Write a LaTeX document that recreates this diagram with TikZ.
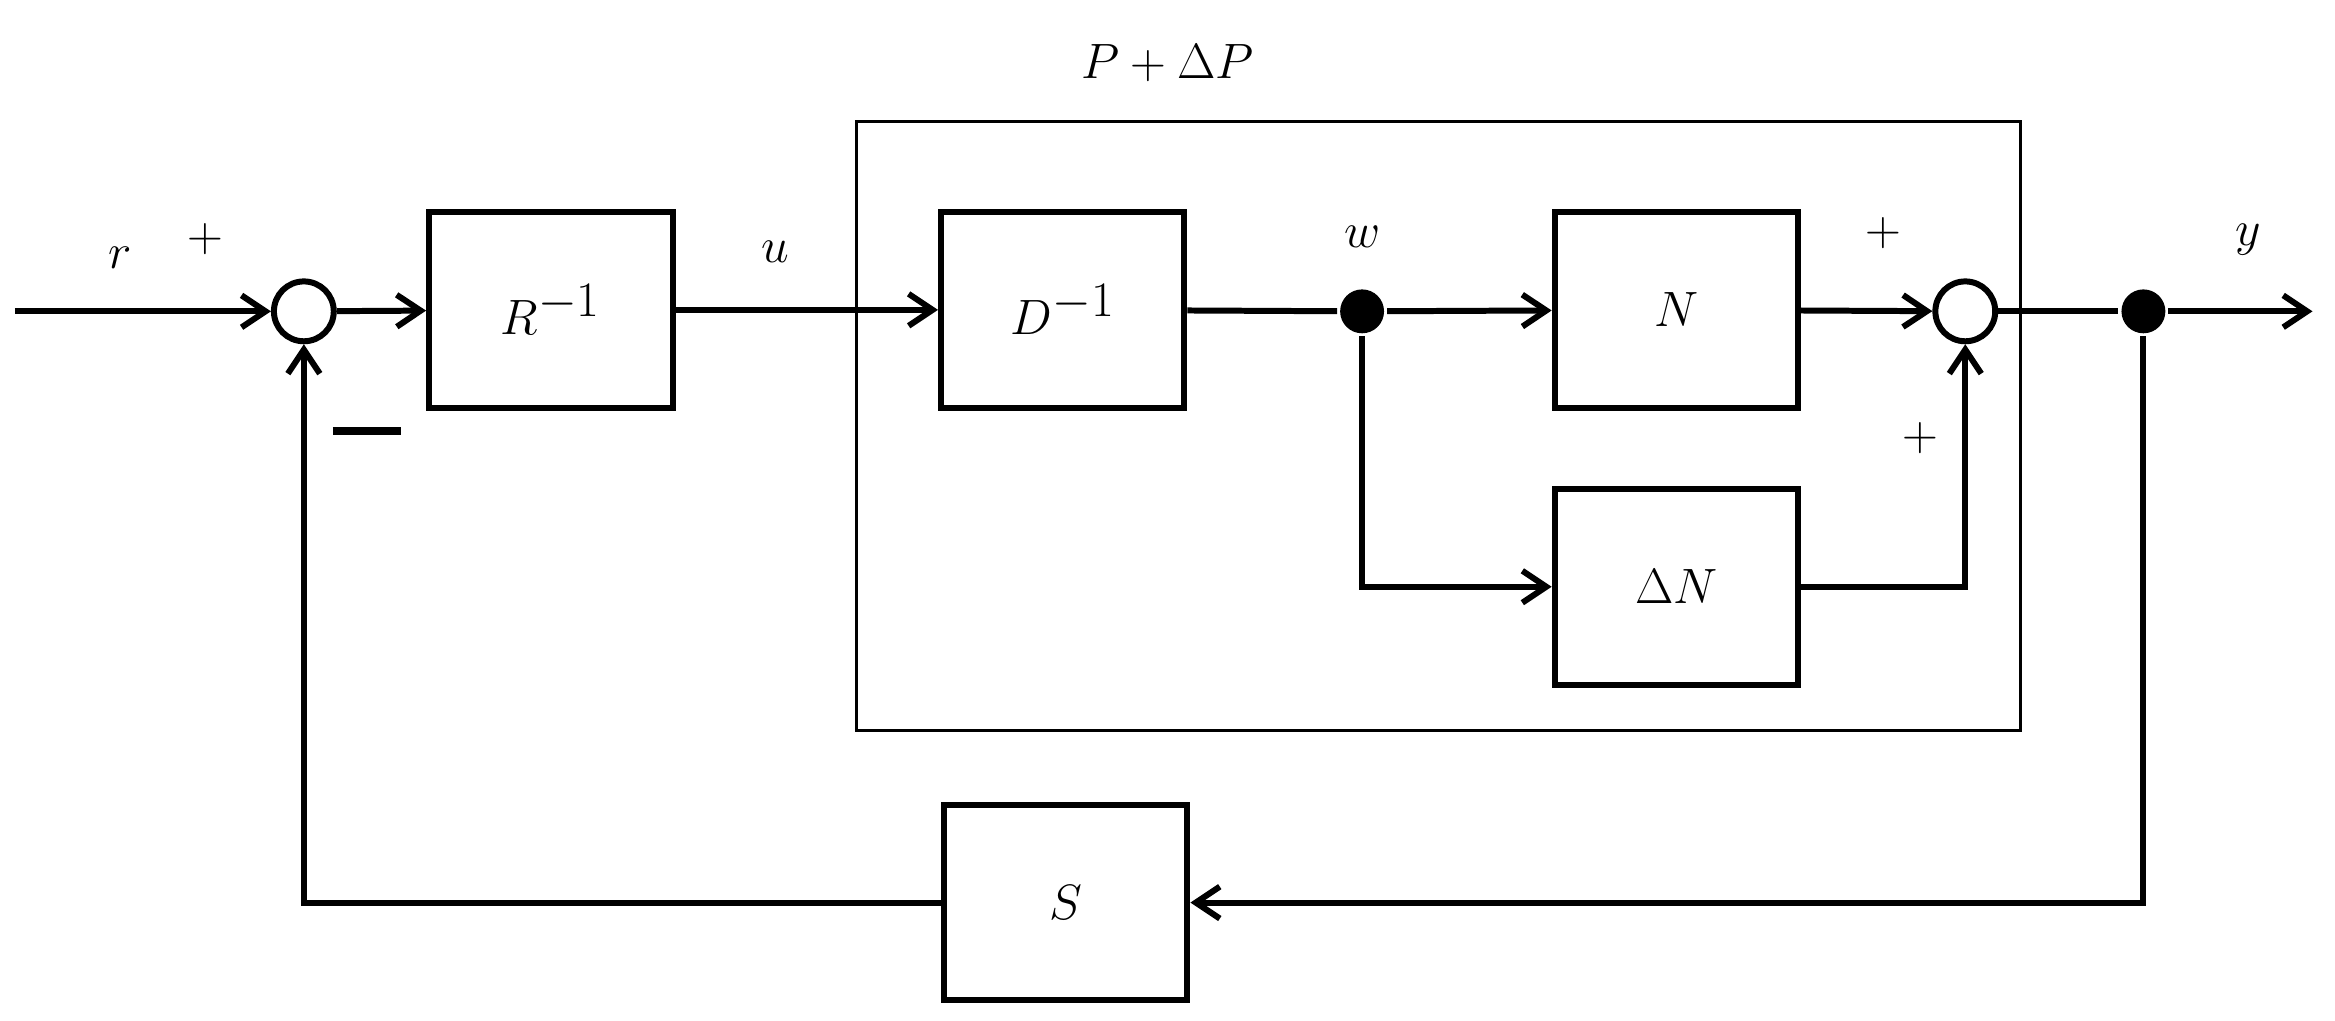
\documentclass[tikz,border=0pt]{standalone}
\usetikzlibrary{arrows.meta}
\begin{document}
\begin{tikzpicture}[x=0.75pt,y=-0.75pt,
  line width=3pt,
  blk/.style={draw,line width=3pt,minimum width=122pt,minimum height=98pt,font=\fontsize{48}{56}\selectfont},
  sum/.style={draw,circle,line width=3pt,minimum size=30pt,inner sep=0pt},
  dot/.style={circle,fill=black,minimum size=22pt,inner sep=0pt},
  lab/.style={font=\fontsize{50}{58}\selectfont},
  arr/.style={-{Straight Barb[length=12pt,width=16pt,line width=3pt]}}]
\useasboundingbox (0,0) rectangle (1560,681.5);
\draw[line width=1.5pt] (572,81) rectangle (1350,488);
\node[lab,font=\fontsize{58}{66}\selectfont] (pl) at (780,42) {$P+\Delta P$};
\coordinate (in) at (10,208);
\node[sum] (s1) at (203,208) {};
\node[blk] (R) at (368,207) {$R^{-1}$};
\node[blk] (D) at (710,207) {$D^{-1}$};
\node[dot] (w) at (910,208) {};
\node[blk] (N) at (1120,207) {$N$};
\node[blk] (dN) at (1120,392) {$\Delta N$};
\node[sum] (s2) at (1313,208) {};
\node[dot] (o) at (1432,208) {};
\coordinate (out) at (1545,208);
\node[blk] (S) at (712,603) {$S$};
\draw[arr] (in) -- (s1);
\draw[arr] (s1) -- (R);
\draw[arr] (R) -- (D);
\draw (D) -- (w);
\draw[arr] (w) -- (N);
\draw[arr] (w) |- (dN);
\draw[arr] (N) -- (s2);
\draw[arr] (dN) -| (s2);
\draw (s2) -- (o);
\draw[arr] (o) -- (out);
\draw[arr] (o) |- (S);
\draw[arr] (S) -| (s1);
\node[lab] (lr) at (80,172) {$r$};
\node[lab] (lp1) at (137,160) {$+$};
\node[lab] (lm) at (245,288) {\rule{34pt}{4pt}};
\node[lab] (lu) at (518,168) {$u$};
\node[lab] (lw) at (910,158) {$w$};
\node[lab] (lp2) at (1258,156) {$+$};
\node[lab] (lp3) at (1283,293) {$+$};
\node[lab] (ly) at (1502,160) {$y$};
\end{tikzpicture}
\end{document}
